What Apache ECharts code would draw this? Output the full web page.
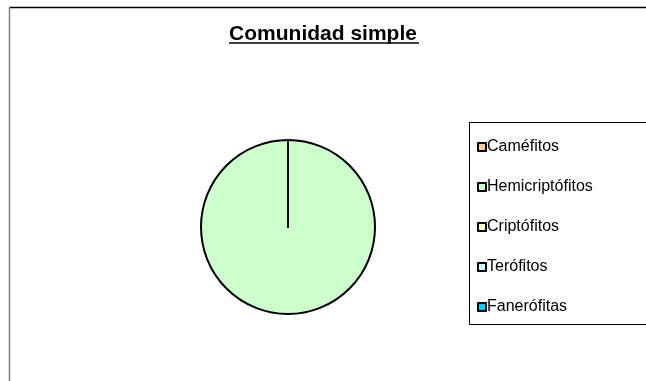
<!DOCTYPE html>
<html>
<head>
<meta charset="utf-8">
<script src="https://cdn.jsdelivr.net/npm/echarts@6/dist/echarts.min.js"></script>
<style>
  html, body { margin: 0; padding: 0; background: #fff; }
  #main { width: 646px; height: 381px; }
</style>
</head>
<body>
<div id="main"></div>
<script>
const categories = ['Caméfitos', 'Hemicriptófitos', 'Criptófitos', 'Terófitos', 'Fanerófitas']
const values = [0, 100, 0, 0, 0]
const colors = ['#FFCC99', '#CCFFCC', '#FFFFCC', '#CCFFFF', '#00CCFF']
const titleText = 'Comunidad simple'

const chart = echarts.init(document.getElementById('main'))

const option = {
    backgroundColor: '#fff',
    animation: false,
    color: colors,
    title: {
        text: titleText,
        left: 'center',
        top: 19,
        textStyle: {
            fontFamily: 'Liberation Sans, Arial, sans-serif',
            fontSize: 21,
            fontWeight: 'bold',
            color: '#000'
        }
    },
    legend: {
        orient: 'vertical',
        left: 472,
        top: 134,
        icon: 'rect',
        itemWidth: 8,
        itemHeight: 8,
        itemGap: 24,
        selectedMode: false,
        itemStyle: { borderColor: '#000', borderWidth: 2 },
        textStyle: {
            fontFamily: 'Liberation Sans, Arial, sans-serif',
            fontSize: 16,
            lineHeight: 16,
            color: '#000',
            padding: [0, 0, 0, -4]
        },
        data: categories
    },
    graphic: [
        // borde del área del gráfico (arriba + izquierda)
        { type: 'line', shape: { x1: 9, y1: 7.5, x2: 646, y2: 7.5 }, style: { stroke: '#000', lineWidth: 1.5 } },
        { type: 'line', shape: { x1: 9.5, y1: 7, x2: 9.5, y2: 381 }, style: { stroke: '#808080', lineWidth: 1.5 } },
        // subrayado del título
        { type: 'line', shape: { x1: 229, y1: 43, x2: 419, y2: 43 }, style: { stroke: '#000', lineWidth: 1.5 } },
        // caja de la leyenda
        { type: 'rect', shape: { x: 469.5, y: 122.5, width: 200, height: 202 }, style: { fill: 'none', stroke: '#000', lineWidth: 1 }, z: -1 }
    ],
    series: [
        {
            type: 'pie',
            center: [288, 227],
            radius: 87,
            startAngle: 90,
            clockwise: true,
            label: { show: false },
            labelLine: { show: false },
            emphasis: { disabled: true },
            itemStyle: { borderColor: '#000', borderWidth: 2 },
            data: categories.map((name, i) => ({ name: name, value: values[i] }))
        }
    ]
}

chart.setOption(option)
</script>
</body>
</html>
